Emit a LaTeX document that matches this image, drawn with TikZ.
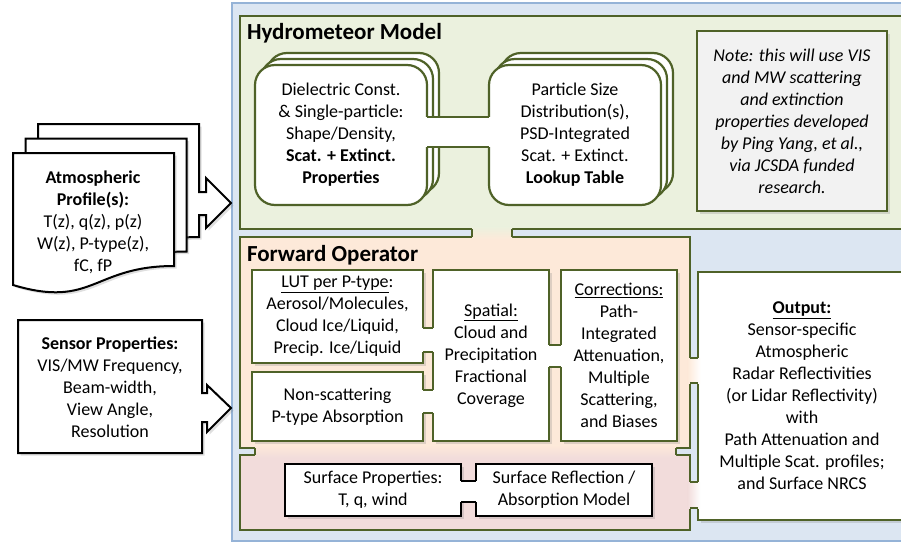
\documentclass[tikz,border=0pt]{standalone}
\usepackage{fontspec}
\setmainfont{Carlito}
\usetikzlibrary{calc,shadows}

\definecolor{olivegreen}{RGB}{79,98,40}
\definecolor{greenfill}{RGB}{235,241,222}
\definecolor{peachfill}{RGB}{253,233,217}
\definecolor{pinkfill}{RGB}{242,220,219}
\definecolor{bluefill}{RGB}{220,230,242}
\definecolor{blueline}{RGB}{149,179,215}
\definecolor{notefill}{RGB}{242,242,242}

% bridge joining two boxes: line style, fill, left/top node, right/bottom node, from, to
\newcommand{\hbridge}[6]{%
  \path[#2] ($(#3.east |- 0,#5)+(-2.5,0)$) rectangle ($(#4.west |- 0,#6)+(2.5,0)$);
  \draw[#1] (#3.east |- 0,#5) -- (#4.west |- 0,#5) (#3.east |- 0,#6) -- (#4.west |- 0,#6);}
\newcommand{\vbridge}[6]{%
  \path[#2] ($(#3.south -| #5,0)+(0,-2.5)$) rectangle ($(#4.north -| #6,0)+(0,2.5)$);
  \draw[#1] (#3.south -| #5,0) -- (#4.north -| #5,0) (#3.south -| #6,0) -- (#4.north -| #6,0);}

\begin{document}
\begin{tikzpicture}[x=1pt, y=-1pt,
  every node/.style={font=\fontsize{18}{22}\selectfont, align=center, inner sep=0pt, outer sep=0pt},
  shade/.style={drop shadow={opacity=0.25, shadow xshift=2.5pt, shadow yshift=-2.5pt}},
  panel/.style={draw=olivegreen, line width=2.5pt, anchor=north west},
  gbox/.style={draw=olivegreen, line width=2.2pt, fill=white, anchor=north west},
  kbox/.style={draw=black, line width=2pt, fill=white, anchor=north west, shade},
  pline/.style={draw=olivegreen, line width=2.5pt},
  gline/.style={draw=olivegreen, line width=2.2pt},
  kline/.style={draw=black, line width=2pt},
  stacked/.style={
    general shadow={shadow xshift=12pt, shadow yshift=12pt, draw=olivegreen, line width=2.2pt, fill=white},
    general shadow={shadow xshift=6pt, shadow yshift=6pt, draw=olivegreen, line width=2.2pt, fill=white}},
  title/.style={font=\fontsize{23}{26}\selectfont\bfseries, anchor=base west}]
  \useasboundingbox (0,0) rectangle (901,544);
  \clip (0,0) rectangle (901,544);

  % outer frame
  \draw[draw=blueline, fill=bluefill, line width=1.5pt] (232,3) rectangle (910,541);

  % panels
  \node[panel, fill=greenfill, minimum width=670pt, minimum height=213pt] (hydro) at (240,16) {};
  \node[panel, fill=peachfill, minimum width=450pt, minimum height=211pt] (fwd) at (240,237) {};
  \node[panel, fill=pinkfill, minimum width=450pt, minimum height=75pt] (surf) at (240,455) {};
  \node[panel, fill=white, shade, minimum width=208pt, minimum height=248pt] (out) at (698,272)
    {\underline{\textbf{Output:}}\\ Sensor-specific\\ Atmospheric\\ Radar Reflectivities\\
     (or Lidar Reflectivity)\\ with\\ Path Attenuation and\\ Multiple Scat. profiles;\\ and Surface NRCS};
  \vbridge{pline}{top color=greenfill, bottom color=peachfill}{hydro}{fwd}{472}{512}
  \vbridge{pline}{top color=peachfill, bottom color=pinkfill}{fwd}{surf}{255}{676}
  \hbridge{pline}{left color=peachfill, right color=white}{fwd}{out}{358}{383}
  \hbridge{pline}{left color=pinkfill, right color=white}{surf}{out}{482}{508}

  \node[title] (hydrotitle) at (247,39.5) {Hydrometeor Model};
  \node[title] (fwdtitle) at (247,261) {Forward Operator};

  % hydrometeor model
  \node[gbox, stacked, rounded corners=20pt, minimum width=172pt, minimum height=140pt] (dielec) at (255,65)
    {Dielectric Const.\\ \& Single-particle:\\ Shape/Density,\\ \textbf{Scat. + Extinct.}\\ \textbf{Properties}};
  \node[gbox, stacked, rounded corners=20pt, minimum width=172pt, minimum height=140pt] (psd) at (489,65)
    {Particle Size\\ Distribution(s),\\ PSD-Integrated\\ Scat. + Extinct.\\ \textbf{Lookup Table}};
  \hbridge{gline}{fill=white}{dielec}{psd}{117}{147}
  \node[gbox, shade, fill=notefill, minimum width=190pt, minimum height=180pt,
    font=\fontsize{18}{22}\selectfont\itshape] (note) at (697,31)
    {Note: this will use VIS\\ and MW scattering\\ and extinction\\ properties developed\\
     by Ping Yang, et al.,\\ via JCSDA funded\\ research.};

  % forward operator
  \node[gbox, shade, minimum width=171pt, minimum height=93pt] (lut) at (252,270)
    {\underline{LUT per P-type}:\\ Aerosol/Molecules,\\ Cloud Ice/Liquid,\\ Precip. Ice/Liquid};
  \node[gbox, shade, minimum width=171pt, minimum height=69pt] (nonscat) at (252,372)
    {Non-scattering\\ P-type Absorption};
  \node[gbox, shade, minimum width=116pt, minimum height=171pt] (spatial) at (433,270)
    {\underline{Spatial:}\\ Cloud and\\ Precipitation\\ Fractional\\ Coverage};
  \node[gbox, shade, minimum width=116pt, minimum height=171pt] (corr) at (561,270)
    {\underline{Corrections:}\\ Path-\\ Integrated\\ Attenuation,\\ Multiple\\ Scattering,\\ and Biases};
  \hbridge{gline}{fill=white}{lut}{spatial}{328}{352}
  \hbridge{gline}{fill=white}{nonscat}{spatial}{390}{413}
  \hbridge{gline}{fill=white}{spatial}{corr}{345}{367}

  % surface
  \node[kbox, minimum width=176pt, minimum height=52pt] (sprop) at (285,464)
    {Surface Properties:\\ T, q, wind};
  \node[kbox, minimum width=176pt, minimum height=52pt] (srefl) at (476,464)
    {Surface Reflection /\\ Absorption Model};
  \hbridge{kline}{fill=white}{sprop}{srefl}{481}{502}

  % profile pages with arrow
  \draw[kline, fill=white, shade] (38,124) -- (199,124) -- (199,192) -- (206,192) -- (206,178) -- (231,203)
    -- (206,228) -- (206,215) -- (199,215) -- (199,237) .. controls (118,237) and (118,280) .. (38,256) -- cycle;
  \foreach \px/\py in {25.5/138.5, 13/153}
    \draw[kline, fill=white, shade, shift={(\px,\py)}] (0,0) -- (161,0) -- (161,113)
      .. controls (80,113) and (80,156) .. (0,132) -- cycle;
  \node (profile) at (93,222)
    {\textbf{Atmospheric}\\ \textbf{Profile(s):}\\ T(z), q(z), p(z)\\ W(z), P-type(z),\\ fC, fP};

  % sensor box with arrow
  \draw[kline, fill=white, shade] (18,320) -- (202,320) -- (202,393) -- (207,393) -- (207,385) -- (231,408)
    -- (207,432) -- (207,422) -- (202,422) -- (202,453) -- (18,453) -- cycle;
  \node (sensor) at (110,387)
    {\textbf{Sensor Properties:}\\ VIS/MW Frequency,\\ Beam-width,\\ View Angle,\\ Resolution};
\end{tikzpicture}
\end{document}
